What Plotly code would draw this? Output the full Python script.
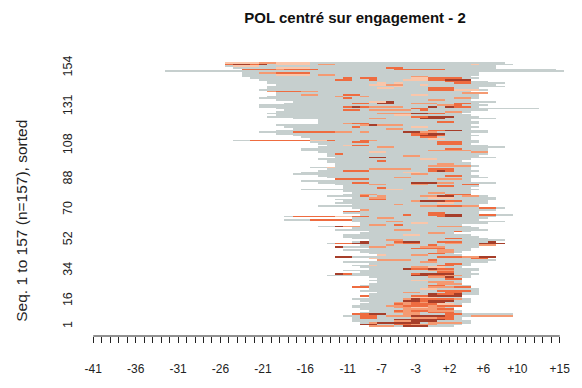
import numpy as np
import plotly.graph_objects as go

# Time positions relative to the engagement (no position 0)
positions = ["-41", "-40", "-39", "-38", "-37", "-36", "-35", "-34", "-33", "-32",
             "-31", "-30", "-29", "-28", "-27", "-26", "-25", "-24", "-23", "-22",
             "-21", "-20", "-19", "-18", "-17", "-16", "-15", "-14", "-13", "-12",
             "-11", "-10", "-9", "-8", "-7", "-6", "-5", "-4", "-3", "-2",
             "-1", "+1", "+2", "+3", "+4", "+5", "+6", "+7", "+8", "+9",
             "+10", "+11", "+12", "+13", "+14", "+15"]
shown_x_labels = ["-41", "-36", "-31", "-26", "-21", "-16", "-11", "-7", "-3",
                  "+2", "+6", "+10", "+15"]
y_tick_values = [1, 16, 34, 52, 70, 88, 108, 131, 154]

# States of the alphabet
state_names = ["hors POL", "POL faible", "POL moyen", "POL fort", "POL très fort"]
state_colors = ["#C6CFCE", "#FAC6AA", "#F49A72", "#EE6C40", "#A63E2A"]

# First and last observed position (index in `positions`) of each sequence,
# sequences 1..157 in sorted order
seq_start = [
    33, 32, 32, 31, 31, 31, 30, 31, 32, 33, 32, 31, 31, 32, 33, 32, 31, 33, 32, 33,
    34, 32, 33, 31, 32, 33, 34, 33, 34, 33, 28, 29, 32, 30, 33, 32, 31, 33, 30, 34,
    33, 29, 34, 33, 32, 30, 33, 29, 32, 28, 31, 33, 31, 30, 30, 32, 33, 29, 31, 27,
    32, 32, 31, 23, 31, 23, 32, 30, 30, 32, 31, 27, 31, 29, 30, 29, 31, 28, 30, 31,
    30, 25, 30, 30, 29, 27, 25, 29, 28, 27, 24, 25, 27, 28, 26, 29, 29, 28, 28, 27,
    29, 28, 28, 27, 25, 25, 27, 28, 27, 26, 17, 26, 25, 24, 22, 20, 22, 24, 23, 22,
    27, 27, 27, 24, 21, 22, 21, 22, 23, 22, 20, 20, 23, 24, 22, 20, 21, 22, 22, 21,
    20, 21, 21, 22, 21, 21, 20, 19, 18, 18, 18, 9, 18, 17, 16, 16, 16,
]
seq_end = [
    42, 43, 44, 44, 43, 43, 49, 49, 43, 43, 42, 42, 43, 43, 44, 44, 44, 43, 43, 45,
    45, 45, 45, 44, 44, 43, 43, 43, 43, 44, 44, 45, 44, 45, 45, 43, 44, 44, 46, 47,
    44, 44, 43, 42, 43, 44, 44, 45, 47, 47, 47, 48, 46, 45, 44, 42, 44, 46, 45, 44,
    43, 46, 48, 45, 46, 47, 49, 45, 45, 47, 48, 45, 45, 46, 46, 47, 47, 46, 44, 44,
    44, 45, 44, 45, 45, 47, 44, 44, 46, 45, 44, 44, 45, 44, 44, 45, 44, 44, 43, 44,
    47, 45, 46, 45, 46, 46, 48, 46, 44, 45, 45, 44, 44, 45, 44, 46, 46, 44, 45, 44,
    45, 45, 44, 47, 45, 44, 43, 44, 46, 52, 45, 46, 45, 47, 44, 45, 45, 45, 44, 44,
    46, 45, 48, 47, 48, 46, 44, 45, 44, 45, 45, 55, 54, 47, 47, 49, 48,
]

# Spells in a POL state: (sequence, first position, last position, state)
spells = [
    (157, 16, 19, 1), (157, 20, 21, 2), (157, 22, 25, 1),
    (156, 16, 19, 3), (156, 17, 18, 4), (156, 20, 20, 4), (156, 22, 25, 1), (156, 27, 28, 2), (156, 45, 45, 1),
    (155, 17, 19, 1),
    (154, 22, 25, 1), (154, 35, 36, 3),
    (153, 18, 21, 3), (153, 22, 22, 2), (153, 23, 26, 3), (153, 36, 41, 3),
    (151, 20, 21, 2), (151, 22, 25, 3),
    (150, 22, 25, 1), (150, 27, 28, 2),
    (149, 38, 39, 2),
    (148, 30, 30, 3), (148, 32, 33, 3), (148, 38, 39, 1), (148, 40, 43, 3),
    (147, 29, 30, 3), (147, 33, 33, 3), (147, 37, 39, 1), (147, 40, 41, 3), (147, 42, 44, 4),
    (146, 42, 44, 3),
    (145, 34, 34, 1), (145, 36, 36, 1), (145, 43, 44, 3),
    (144, 33, 34, 1), (144, 35, 36, 2), (144, 39, 39, 1),
    (143, 36, 36, 1),
    (142, 34, 35, 1), (142, 40, 42, 3),
    (141, 40, 42, 3), (141, 43, 45, 1),
    (140, 21, 26, 2), (140, 22, 24, 3),
    (139, 44, 46, 2),
    (138, 25, 26, 2), (138, 30, 31, 3), (138, 38, 39, 1),
    (137, 29, 29, 2), (137, 32, 32, 2),
    (136, 30, 30, 3), (136, 43, 44, 2),
    (135, 40, 41, 2),
    (134, 33, 35, 1), (134, 35, 35, 4),
    (133, 31, 32, 3), (133, 34, 35, 4), (133, 38, 40, 2), (133, 43, 44, 3),
    (132, 41, 42, 2), (132, 43, 43, 3),
    (131, 30, 31, 3), (131, 31, 31, 4), (131, 32, 32, 3), (131, 33, 36, 2), (131, 40, 40, 4),
    (131, 42, 42, 4), (131, 43, 44, 3),
    (130, 38, 39, 3),
    (129, 30, 31, 3), (129, 33, 34, 2), (129, 35, 37, 2), (129, 39, 39, 3),
    (128, 42, 43, 2),
    (127, 34, 37, 2), (127, 38, 39, 4), (127, 40, 41, 3),
    (126, 36, 37, 1),
    (125, 38, 39, 3), (125, 40, 42, 4),
    (124, 33, 34, 2), (124, 39, 41, 4),
    (122, 41, 42, 3),
    (121, 30, 30, 2), (121, 31, 32, 3),
    (120, 32, 32, 2), (120, 33, 33, 4), (120, 34, 36, 2),
    (119, 31, 31, 3), (119, 38, 39, 1),
    (118, 35, 36, 2),
    (117, 40, 41, 3), (117, 42, 43, 4),
    (116, 24, 28, 3), (116, 29, 30, 2), (116, 32, 32, 2), (116, 37, 38, 4), (116, 39, 40, 2),
    (115, 38, 39, 3), (115, 40, 41, 4),
    (114, 38, 40, 3), (114, 39, 40, 4), (114, 41, 41, 3),
    (113, 39, 40, 3),
    (112, 40, 41, 1),
    (111, 19, 28, 3), (111, 26, 27, 1), (111, 32, 32, 3), (111, 33, 33, 2),
    (110, 31, 32, 3), (110, 41, 43, 3),
    (109, 41, 43, 3),
    (108, 30, 30, 1), (108, 31, 32, 3),
    (107, 34, 35, 2),
    (106, 42, 43, 3),
    (105, 40, 44, 2),
    (104, 33, 34, 1), (104, 45, 46, 2),
    (103, 29, 29, 3),
    (102, 37, 38, 2),
    (101, 33, 34, 4),
    (100, 39, 40, 1),
    (99, 34, 34, 3),
    (97, 41, 42, 2),
    (96, 40, 44, 2),
    (95, 28, 28, 1),
    (94, 33, 37, 2), (94, 40, 42, 3),
    (93, 30, 31, 3), (93, 32, 32, 3), (93, 40, 42, 3), (93, 41, 41, 4),
    (92, 37, 38, 1),
    (91, 38, 39, 2),
    (90, 42, 43, 3),
    (89, 36, 37, 2),
    (88, 29, 30, 3), (88, 31, 32, 3), (88, 41, 43, 2),
    (86, 31, 32, 3), (86, 38, 40, 4), (86, 41, 42, 2),
    (85, 33, 34, 2), (85, 38, 39, 2), (85, 44, 45, 3),
    (84, 41, 42, 3),
    (83, 34, 34, 3),
    (82, 35, 36, 1),
    (80, 40, 41, 2),
    (79, 32, 33, 2), (79, 42, 44, 3),
    (78, 32, 32, 3), (78, 34, 34, 2), (78, 39, 40, 2), (78, 41, 42, 4), (78, 44, 45, 2),
    (77, 33, 34, 2), (77, 40, 42, 1),
    (76, 33, 34, 3),
    (75, 38, 38, 2), (75, 39, 41, 4), (75, 42, 43, 3),
    (74, 41, 42, 1),
    (73, 36, 36, 2),
    (72, 39, 40, 2), (72, 41, 43, 3), (72, 44, 45, 2),
    (71, 46, 47, 3),
    (70, 32, 32, 2),
    (69, 30, 31, 3),
    (68, 40, 41, 3),
    (67, 37, 37, 3), (67, 40, 41, 3), (67, 42, 43, 4), (67, 46, 47, 3),
    (66, 24, 28, 3), (66, 29, 30, 1), (66, 31, 32, 3), (66, 41, 41, 3), (66, 42, 43, 4),
    (65, 34, 35, 2),
    (64, 26, 30, 3),
    (63, 35, 36, 2),
    (62, 38, 39, 1),
    (61, 33, 34, 2), (61, 36, 36, 3),
    (60, 29, 29, 4), (60, 30, 31, 2), (60, 41, 43, 2),
    (58, 36, 37, 2),
    (57, 43, 43, 3),
    (56, 40, 41, 2),
    (55, 37, 38, 1),
    (53, 42, 43, 3),
    (52, 35, 36, 2),
    (51, 32, 32, 4), (51, 36, 36, 3), (51, 37, 38, 4), (51, 41, 43, 3), (51, 47, 47, 4),
    (50, 29, 30, 3), (50, 31, 32, 4), (50, 36, 36, 2), (50, 37, 38, 3), (50, 42, 43, 2), (50, 46, 48, 4),
    (49, 35, 35, 2), (49, 40, 40, 3), (49, 46, 47, 2),
    (48, 29, 29, 4), (48, 33, 34, 2), (48, 39, 41, 2),
    (47, 38, 41, 3),
    (46, 41, 42, 2),
    (45, 41, 42, 2),
    (44, 40, 41, 3),
    (43, 34, 34, 1), (43, 38, 39, 2),
    (42, 29, 30, 4), (42, 41, 43, 3), (42, 44, 45, 2), (42, 46, 47, 4),
    (41, 33, 33, 1), (41, 45, 46, 3),
    (40, 34, 37, 2), (40, 40, 40, 3),
    (39, 39, 40, 2),
    (38, 42, 43, 3),
    (37, 33, 33, 1), (37, 41, 42, 3),
    (36, 38, 39, 2), (36, 40, 41, 1),
    (35, 37, 37, 4), (35, 38, 39, 3), (35, 40, 40, 4), (35, 41, 42, 3),
    (34, 40, 42, 2),
    (33, 41, 42, 3),
    (32, 29, 29, 4), (32, 30, 30, 3), (32, 38, 38, 3), (32, 39, 42, 4),
    (31, 38, 39, 4), (31, 40, 41, 3), (31, 42, 43, 2),
    (30, 40, 41, 2), (30, 42, 42, 4),
    (29, 42, 43, 3),
    (28, 38, 39, 1),
    (27, 40, 42, 2),
    (26, 41, 43, 2),
    (25, 40, 41, 3),
    (24, 31, 32, 3), (24, 40, 42, 2), (24, 43, 44, 3),
    (23, 39, 40, 1),
    (22, 41, 44, 3),
    (21, 37, 38, 2), (21, 42, 43, 3),
    (20, 40, 40, 4), (20, 41, 42, 3), (20, 43, 43, 4),
    (19, 32, 32, 3), (19, 38, 39, 3), (19, 40, 43, 4),
    (18, 38, 40, 1),
    (17, 37, 37, 2), (17, 38, 38, 4), (17, 39, 42, 3), (17, 43, 43, 2),
    (16, 37, 38, 4), (16, 39, 39, 3), (16, 40, 42, 4),
    (15, 36, 37, 2), (15, 38, 38, 3), (15, 39, 39, 2), (15, 40, 41, 4),
    (14, 36, 36, 3), (14, 37, 37, 2), (14, 38, 40, 3), (14, 41, 42, 1),
    (13, 35, 36, 2), (13, 37, 39, 3), (13, 40, 40, 2), (13, 41, 43, 3),
    (12, 36, 37, 2), (12, 38, 39, 1), (12, 40, 41, 2),
    (11, 37, 40, 2), (11, 41, 42, 3),
    (10, 36, 36, 3), (10, 37, 37, 2), (10, 38, 39, 3), (10, 40, 42, 2),
    (9, 36, 38, 2), (9, 40, 42, 3),
    (8, 31, 32, 3), (8, 33, 34, 4), (8, 37, 38, 2), (8, 42, 43, 3),
    (7, 32, 33, 3), (7, 35, 37, 2), (7, 38, 41, 4), (7, 42, 42, 3), (7, 45, 49, 2),
    (6, 32, 33, 3), (6, 38, 40, 2), (6, 41, 42, 3),
    (5, 36, 41, 4), (5, 42, 42, 3),
    (4, 36, 37, 2), (4, 38, 40, 4),
    (3, 33, 33, 2), (3, 34, 38, 4), (3, 40, 43, 2),
    (2, 32, 33, 4), (2, 36, 37, 3), (2, 38, 40, 2),
    (1, 33, 35, 2), (1, 37, 39, 4),
]

n_seq = len(seq_start)
n_pos = len(positions)

# State matrix: NaN = no observation, 0 = grey state, 1..4 = POL states
z = np.full((n_seq, n_pos), np.nan)
for i, (s, e) in enumerate(zip(seq_start, seq_end)):
    z[i, s:e + 1] = 0
for seq, first, last, state in spells:
    z[seq - 1, first:last + 1] = state

n_states = len(state_colors)
colorscale = []
for k, col in enumerate(state_colors):
    colorscale.append([k / n_states, col])
    colorscale.append([(k + 1) / n_states, col])

fig = go.Figure()
fig.add_trace(go.Heatmap(
    z=z,
    x=list(range(n_pos)),
    y=list(range(1, n_seq + 1)),
    zmin=-0.5, zmax=n_states - 0.5,
    colorscale=colorscale,
    showscale=False,
    hoverinfo="skip",
    xgap=0, ygap=0,
))

tick_text = [p if p in shown_x_labels else "" for p in positions]

font_main = "Liberation Sans, Arial, sans-serif"
fig.update_layout(
    width=582, height=388,
    margin=dict(l=89, r=12, t=62, b=46),
    paper_bgcolor="white", plot_bgcolor="white",
    showlegend=False,
    font=dict(family=font_main, size=12, color="#222222"),
    title=dict(
        text="<b>POL centré sur engagement - 2</b>",
        x=355 / 582, xref="container", xanchor="center",
        y=0.953, yref="container", yanchor="middle",
        font=dict(family=font_main, size=15, color="#111111"),
    ),
    xaxis=dict(
        range=[-0.5, n_pos - 0.5],
        tickmode="array",
        tickvals=list(range(n_pos)),
        ticktext=tick_text,
        ticks="outside", ticklen=6, tickwidth=1, tickcolor="#222222",
        showline=False, showgrid=False, zeroline=False,
        anchor="free", position=0,
        tickfont=dict(size=12, color="#222222"),
        ticklabelstandoff=16,
    ),
    yaxis=dict(
        domain=[9 / 280, 1],
        range=[0.5, n_seq + 0.5],
        tickmode="array",
        tickvals=y_tick_values,
        ticktext=[str(v) for v in y_tick_values],
        tickangle=-90,
        ticks="", showline=False, showgrid=False, zeroline=False,
        tickfont=dict(size=12.5, color="#222222"),
        ticklabelstandoff=14,
    ),
)

# R-style axis line spanning the first to the last tick
fig.add_shape(type="line", xref="x", yref="paper",
              x0=0, x1=n_pos - 1, y0=0, y1=0,
              line=dict(color="#222222", width=1))

fig.add_annotation(
    text="Seq. 1 to 157 (n=157), sorted",
    xref="paper", yref="paper",
    x=-68 / 481, y=0.42, xanchor="center", yanchor="middle",
    textangle=-90, showarrow=False,
    font=dict(family=font_main, size=15.5, color="#222222"),
)

fig.write_html("out.html")
